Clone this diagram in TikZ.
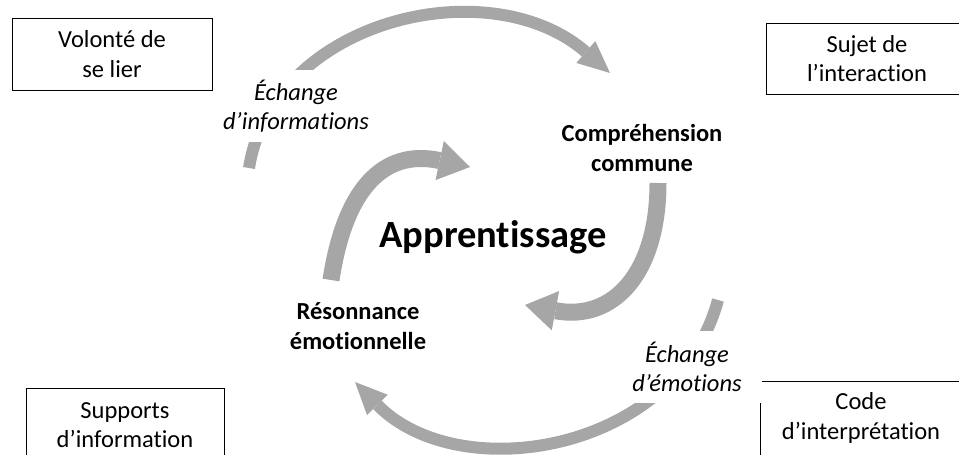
\documentclass[tikz,border=0pt]{standalone}
\usepackage{fontspec}
\setmainfont{Carlito}[Ligatures=NoCommon]
\usetikzlibrary{arrows.meta}
\definecolor{arcgray}{RGB}{166,166,166}

\tikzset{
    box/.style={draw, line width=0.9pt, minimum width=200pt, minimum height=72pt,
        align=center, font=\fontsize{24.5}{29.5}\selectfont},
    exchange/.style={fill=white, minimum height=72pt, inner sep=2pt, align=center,
        font=\fontsize{24.5}{29}\selectfont\itshape},
    stage/.style={align=center, font=\fontsize{24.5}{29.5}\selectfont\bfseries},
    outerarc/.style={draw=arcgray, line width=12pt,
        -{Triangle[length=32pt, width=29pt, line width=0pt]}},
    innerarc/.style={draw=arcgray, line width=17pt,
        -{Triangle[length=31pt, width=40pt, line width=0pt]}}
}

\begin{document}
\begin{tikzpicture}[x=1pt, y=1pt]
            \useasboundingbox (0,0) rectangle (959,455);
            \clip (0,0) rectangle (959,455);
            \node[box] (volonte) at (112,401) {Volonté de\\se lier};
            \node[box, minimum width=202pt, minimum height=71pt] (sujet) at (867,396.5) {Sujet de\\l’interaction};
            \node[box, minimum width=198pt, minimum height=74pt] (supports) at (125,30) {Supports\\d’information};
            \node[box, minimum width=202pt, minimum height=74pt] (code) at (861,37) {Code\\d’interprétation};
            \coordinate (infostart) at (249,287);
            \coordinate (infoend) at (610,382);
            \draw[outerarc] (infostart) .. controls (272.4,435.2) and (489.2,487) .. (infoend);
            \coordinate (emostart) at (718,155);
            \coordinate (emoend) at (355,73);
            \draw[outerarc] (emostart) .. controls (676.6,2) and (458.7,-33) .. (emoend);
            \coordinate (leftstart) at (331,175);
            \coordinate (leftend) at (470,288);
            \draw[innerarc] (leftstart) .. controls (344.5,264.1) and (382,306.7) .. (leftend);
            \coordinate (rightstart) at (658,272);
            \coordinate (rightend) at (525,150);
            \draw[innerarc] (rightstart) .. controls (658,182) and (613.5,133.4) .. (rightend);
            \node[exchange] (infolabel) at (296,348.5) {Échange\\d’informations};
            \node[exchange, minimum width=150pt] (emolabel) at (687,88) {Échange\\d’émotions};
            \node[stage] (comprehension) at (642,307) {Compréhension\\commune};
            \node[stage] (resonance) at (358,129) {Résonnance\\émotionnelle};
            \node[font=\fontsize{38.5}{46}\selectfont\bfseries] (apprentissage) at (493,218) {Apprentissage};
        \end{tikzpicture}
\end{document}
